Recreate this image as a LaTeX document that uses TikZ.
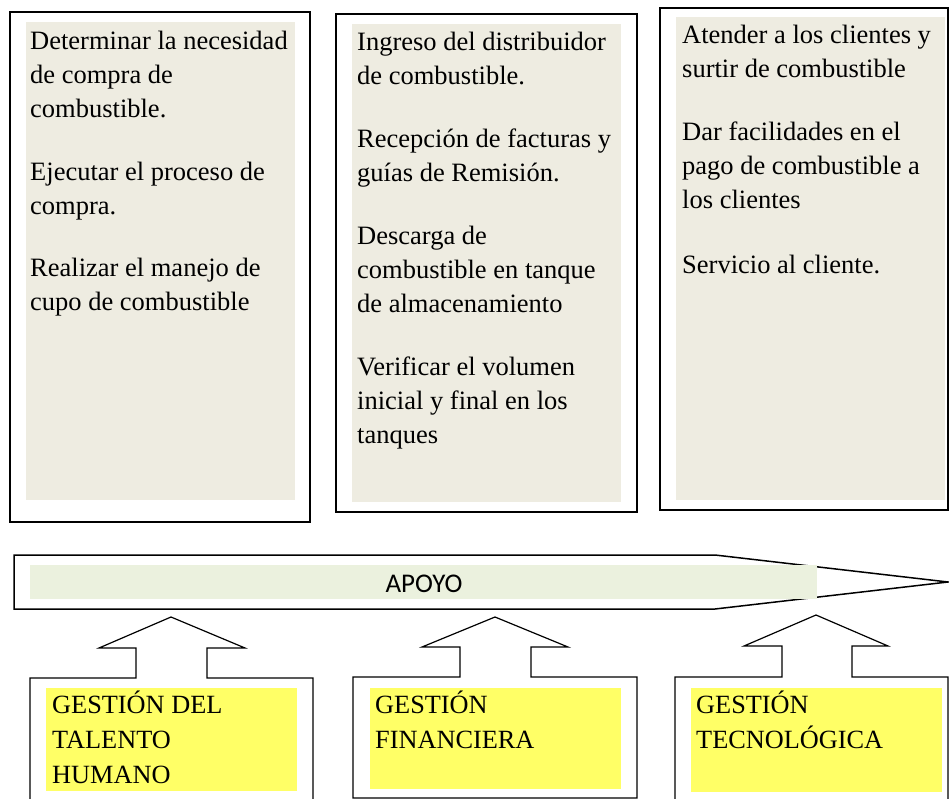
\documentclass[tikz,border=0pt]{standalone}
\usepackage{fontspec}
\setmainfont{Liberation Serif}
\newfontfamily\apoyofont{Carlito}
\definecolor{tanbg}{HTML}{EEECE1}
\definecolor{apoyogreen}{HTML}{EBF1DE}
\definecolor{gyellow}{HTML}{FFFF66}
\begin{document}
\begin{tikzpicture}[x=1pt,y=-1pt,
  topbox/.style={draw=black, line width=1.6pt, fill=white},
  tanfill/.style={fill=tanbg, draw=none},
  blockshape/.style={draw=black, line width=1.2pt, fill=white, line join=miter},
  yfill/.style={fill=gyellow, draw=none},
  bodytext/.style={anchor=base west, inner sep=0pt, align=left, font=\fontsize{26.5}{34}\selectfont},
  gtext/.style={anchor=base west, inner sep=0pt, align=left, font=\fontsize{26.3}{35}\selectfont},
]
\useasboundingbox (0,0) rectangle (949,799);
\fill[white] (0,0) rectangle (949,799);

% top boxes
\draw[topbox] (10,12) rectangle (310,522);
\fill[tanfill] (26,22) rectangle (295,500);
\draw[topbox] (336,14) rectangle (637,512);
\fill[tanfill] (352,24) rectangle (621,502);
\draw[topbox] (660,8) rectangle (948,510);
\fill[tanfill] (676,17) rectangle (945,500);

% (anchor = baseline of the last line)
\node[bodytext] (t1) at (30,310) {Determinar la necesidad\\de compra de\\combustible.\\[28pt]Ejecutar el proceso de\\compra.\\[28pt]Realizar el manejo de\\cupo de combustible};
\node[bodytext] (t2) at (357,443) {Ingreso del distribuidor\\de combustible.\\[29pt]Recepción de facturas y\\guías de Remisión.\\[29pt]Descarga de\\combustible en tanque\\de almacenamiento\\[29pt]Verificar el volumen\\inicial y final en los\\tanques};
\node[bodytext] (t3) at (682,273) {Atender a los clientes y\\surtir de combustible\\[29pt]Dar facilidades en el\\pago de combustible a\\los clientes\\[30pt]Servicio al cliente.};

% APOYO arrow
\draw[draw=black, line width=1.5pt, fill=white, line join=miter] (14,555) -- (715,555) -- (948,582) -- (715,609) -- (14,609) -- cycle;
\fill[apoyogreen] (30,565) rectangle (817,599);
\node[anchor=base, inner sep=0pt, font=\apoyofont\fontsize{27}{30}\selectfont] (apoyo) at (424,592) {APOYO};

% bottom blocks with up arrows
\draw[blockshape] (30,806) -- (30,678) -- (136,678) -- (136,648) -- (99,648) -- (171,617) -- (245,648) -- (207,648) -- (207,678) -- (313,678) -- (313,806);
\fill[yfill] (46,688) rectangle (297,791);
\node[gtext] (g1) at (52,783) {GESTIÓN DEL\\TALENTO\\HUMANO};

\draw[blockshape] (353,798) -- (353,677) -- (460,677) -- (460,647) -- (422,647) -- (495,617) -- (568,647) -- (531,647) -- (531,677) -- (637,677) -- (637,798) -- cycle;
\fill[yfill] (370,688) rectangle (621,789);
\node[gtext] (g2) at (375,748) {GESTIÓN\\FINANCIERA};

\draw[blockshape] (675,806) -- (675,677) -- (782,677) -- (782,646) -- (744,646) -- (816,615) -- (888,646) -- (852,646) -- (852,677) -- (948,677) -- (948,806);
\fill[yfill] (691,688) rectangle (942,792);
\node[gtext] (g3) at (696,748) {GESTIÓN\\TECNOLÓGICA};
\end{tikzpicture}
\end{document}
